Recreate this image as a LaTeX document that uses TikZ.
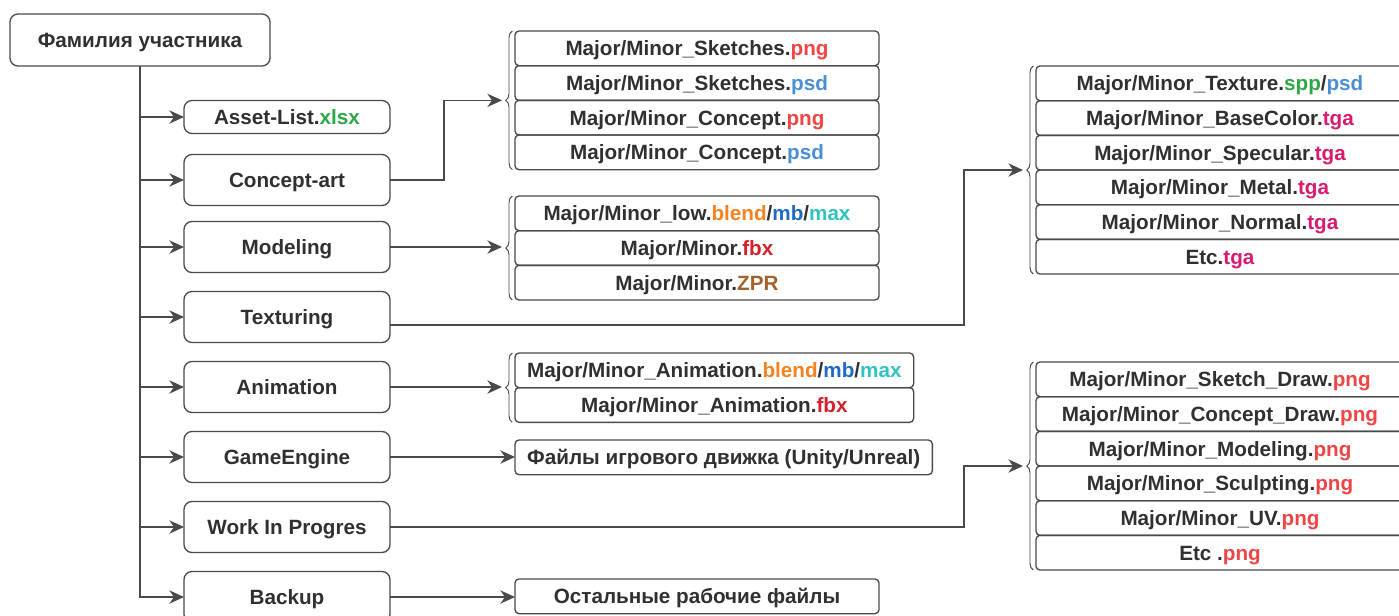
\documentclass[tikz,border=0pt]{standalone}
\usepackage{fontspec}
\setmainfont{Liberation Sans}
\usepackage{tikz}
\usetikzlibrary{positioning}
\usetikzlibrary{arrows.meta,calc,decorations.pathreplacing}

\definecolor{linegray}{HTML}{4A4A4A}
\definecolor{textgray}{HTML}{303030}
\definecolor{xlsxgreen}{HTML}{2EA847}
\definecolor{pngred}{HTML}{F04545}
\definecolor{psdblue}{HTML}{4A8FD6}
\definecolor{blendorange}{HTML}{F5821F}
\definecolor{mbblue}{HTML}{1F6AC4}
\definecolor{maxteal}{HTML}{33C2C2}
\definecolor{fbxred}{HTML}{D4202A}
\definecolor{zprbrown}{HTML}{A3622B}
\definecolor{tgapink}{HTML}{D81B6E}
\newcommand{\ext}[2]{\textcolor{#1}{#2}}

\begin{document}
\begin{tikzpicture}[>={Stealth[length=11pt,width=10pt,inset=3.5pt]},x=0.75pt,y=-0.75pt,node distance=52.5pt,line width=1pt,color=linegray,
	every node/.style={font=\bfseries\fontsize{15.5}{18}\selectfont, text=textgray, text height=11.1pt, text depth=0pt, outer sep=0pt},
	box/.style={draw, rectangle, rounded corners=6pt, minimum width=154.5pt, minimum height=38.25pt},
	file/.style={draw, rectangle, rounded corners=3pt, minimum width=#1, minimum height=26pt, inner sep=0pt},
	file/.default=273pt,
	grp/.style={decorate, decoration={brace, amplitude=5pt}, line width=0.7pt}]
				\useasboundingbox (0,0) rectangle (1399,615);

				% left column
				\node[box, minimum width=195pt, minimum height=39pt]	(root)	at (140,40) {Фамилия участника};
				\node[box, minimum height=24.75pt]	(asset)	at (287,117) {Asset-List.\ext{xlsxgreen}{xlsx}};
				\node[box]	(concept)	at (287,180) {Concept-art};
				\node[box]	(modeling)	at (287,247) {Modeling};
				\node[below of=modeling, box]	(texturing) {Texturing};
				\node[below of=texturing, box]	(animation) {Animation};
				\node[below of=animation, box]	(gameengine) {GameEngine};
				\node[below of=gameengine, box]	(wip) {Work In Progres};
				\node[below of=wip, box]	(backup) {Backup};

				% concept-art files
				\node[file, anchor=north west]	(c1)	at (515,31) {Major/Minor\_Sketches.\ext{pngred}{png}};
				\node[file, below=0pt of c1]	(c2) {Major/Minor\_Sketches.\ext{psdblue}{psd}};
				\node[file, below=0pt of c2]	(c3) {Major/Minor\_Concept.\ext{pngred}{png}};
				\node[file, below=0pt of c3]	(c4) {Major/Minor\_Concept.\ext{psdblue}{psd}};

				% modeling files
				\node[file, anchor=north west]	(m1)	at (515,196) {Major/Minor\_low.\ext{blendorange}{blend}/\ext{mbblue}{mb}/\ext{maxteal}{max}};
				\node[file, below=0pt of m1]	(m2) {Major/Minor.\ext{fbxred}{fbx}};
				\node[file, below=0pt of m2]	(m3) {Major/Minor.\ext{zprbrown}{ZPR}};

				% animation files
				\node[file=299pt, anchor=north west]	(a1)	at (515,353) {Major/Minor\_Animation.\ext{blendorange}{blend}/\ext{mbblue}{mb}/\ext{maxteal}{max}};
				\node[file=299pt, below=0pt of a1]	(a2) {Major/Minor\_Animation.\ext{fbxred}{fbx}};

				\node[file=313pt, anchor=north west]	(engine)	at (515,440) {Файлы игрового движка (Unity/Unreal)};
				\node[file, anchor=north west]	(rest)	at (515,579) {Остальные рабочие файлы};

				% texture files
				\node[file=276pt, anchor=north west]	(t1)	at (1036,66) {Major/Minor\_Texture.\ext{xlsxgreen}{spp}/\ext{psdblue}{psd}};
				\node[file=276pt, below=0pt of t1]	(t2) {Major/Minor\_BaseColor.\ext{tgapink}{tga}};
				\node[file=276pt, below=0pt of t2]	(t3) {Major/Minor\_Specular.\ext{tgapink}{tga}};
				\node[file=276pt, below=0pt of t3]	(t4) {Major/Minor\_Metal.\ext{tgapink}{tga}};
				\node[file=276pt, below=0pt of t4]	(t5) {Major/Minor\_Normal.\ext{tgapink}{tga}};
				\node[file=276pt, below=0pt of t5]	(t6) {Etc.\ext{tgapink}{tga}};

				% work in progress files
				\node[file=276pt, anchor=north west]	(w1)	at (1036,362) {Major/Minor\_Sketch\_Draw.\ext{pngred}{png}};
				\node[file=276pt, below=0pt of w1]	(w2) {Major/Minor\_Concept\_Draw.\ext{pngred}{png}};
				\node[file=276pt, below=0pt of w2]	(w3) {Major/Minor\_Modeling.\ext{pngred}{png}};
				\node[file=276pt, below=0pt of w3]	(w4) {Major/Minor\_Sculpting.\ext{pngred}{png}};
				\node[file=276pt, below=0pt of w4]	(w5) {Major/Minor\_UV.\ext{pngred}{png}};
				\node[file=276pt, below=0pt of w5]	(w6) {Etc .\ext{pngred}{png}};

				% braces
				\draw[grp] ([xshift=-2pt]c4.south west) -- ([xshift=-2pt]c1.north west);
				\draw[grp] ([xshift=-2pt]m3.south west) -- ([xshift=-2pt]m1.north west);
				\draw[grp] ([xshift=-2pt]a2.south west) -- ([xshift=-2pt]a1.north west);
				\draw[grp] ([xshift=-2pt]t6.south west) -- ([xshift=-2pt]t1.north west);
				\draw[grp] ([xshift=-2pt]w6.south west) -- ([xshift=-2pt]w1.north west);
				\coordinate (cin) at ($(c1.north west)!0.5!(c4.south west)+(-13,0)$);
				\coordinate (min) at ($(m1.north west)!0.5!(m3.south west)+(-13,0)$);
				\coordinate (ain) at ($(a1.north west)!0.5!(a2.south west)+(-13,0)$);
				\coordinate (tin) at ($(t1.north west)!0.5!(t6.south west)+(-13,0)$);
				\coordinate (win) at ($(w1.north west)!0.5!(w6.south west)+(-13,0)$);

				% connectors
				\foreach \n in {asset,concept,modeling,texturing,animation,gameengine,wip,backup}
					\draw[->] (root.south) |- (\n.west);
				\draw[->] (concept.east) -- ++(54,0) |- (cin);
				\draw[->] (modeling.east) -- (modeling.east -| min);
				\draw[->] ([yshift=-6pt]texturing.east) -- ++(574,0) |- (tin);
				\draw[->] (animation.east) -- (animation.east -| ain);
				\draw[->] (gameengine.east) -- (gameengine.east -| engine.west);
				\draw[->] (wip.east) -- ++(574,0) |- (win);
				\draw[->] (backup.east) -- (backup.east -| rest.west);
\end{tikzpicture}
\end{document}
